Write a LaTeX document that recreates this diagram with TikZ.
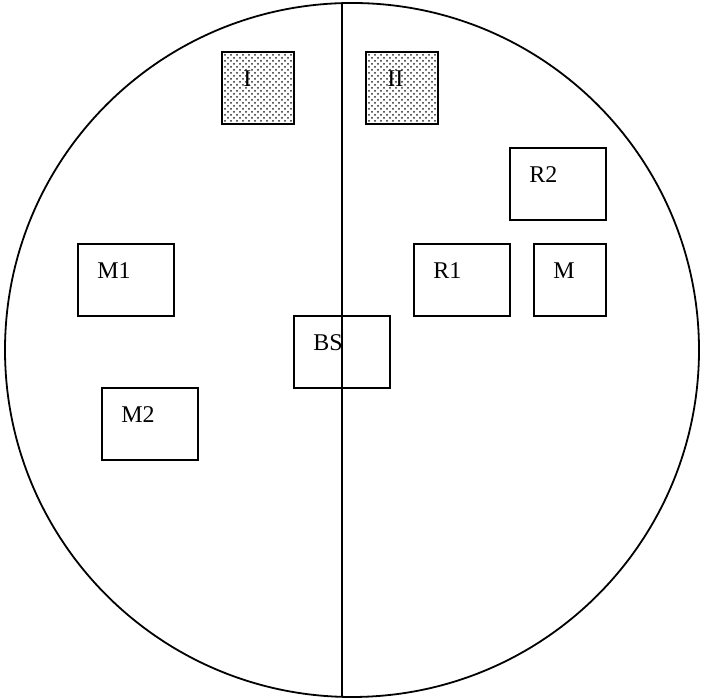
\documentclass[tikz,border=0pt]{standalone}
\usepackage{fontspec}
\setmainfont{Liberation Serif}
\usetikzlibrary{patterns}
\tikzset{
  % outline of the field and the dividing line
  rim/.style={line width=0.9pt},
  % plain text boxes
  tbox/.style={draw, line width=0.9pt, inner sep=0pt, anchor=north west,
    minimum width=48pt, minimum height=36pt},
  sqbox/.style={tbox, minimum width=36pt},
  % dotted (shaded) boxes
  dotbox/.style={sqbox, pattern=crosshatch dots, pattern color=black!85},
  % box labels, set from the upper left corner
  lbl/.style={anchor=base west, inner sep=0pt, font=\fontsize{12}{14}\selectfont},
}
\begin{document}
\begin{tikzpicture}[x=0.5pt, y=0.5pt]
  \useasboundingbox (0,0) rectangle (702,700);
  % field and divider
  \coordinate (c) at (352,350);
  \coordinate (top) at (342,697);
  \coordinate (bot) at (342,3);
  \draw[rim] (c) circle [radius=347];
  \draw[rim] (top) -- (bot);
  % shaded boxes
  \node[dotbox] (i) at (221,649) {};
  \node[dotbox] (ii) at (365,649) {};
  % plain boxes
  \node[tbox] (r2) at (509,553) {};
  \node[tbox] (r1) at (413,457) {};
  \node[sqbox] (m) at (533,457) {};
  \node[tbox] (m1) at (77,457) {};
  \node[tbox] (bs) at (293,385) {};
  \node[tbox] (m2) at (101,313) {};
  % labels
  \node[lbl] (it) at ([shift={(11pt,-18pt)}]i.north west) {I};
  \node[lbl] (iit) at ([shift={(11pt,-18pt)}]ii.north west) {II};
  \node[lbl] (r2t) at ([shift={(10pt,-18pt)}]r2.north west) {R2};
  \node[lbl] (r1t) at ([shift={(10pt,-18pt)}]r1.north west) {R1};
  \node[lbl] (mt) at ([shift={(10pt,-18pt)}]m.north west) {M};
  \node[lbl] (m1t) at ([shift={(10pt,-18pt)}]m1.north west) {M1};
  \node[lbl] (bst) at ([shift={(10pt,-18pt)}]bs.north west) {BS};
  \node[lbl] (m2t) at ([shift={(10pt,-18pt)}]m2.north west) {M2};
\end{tikzpicture}
\end{document}
